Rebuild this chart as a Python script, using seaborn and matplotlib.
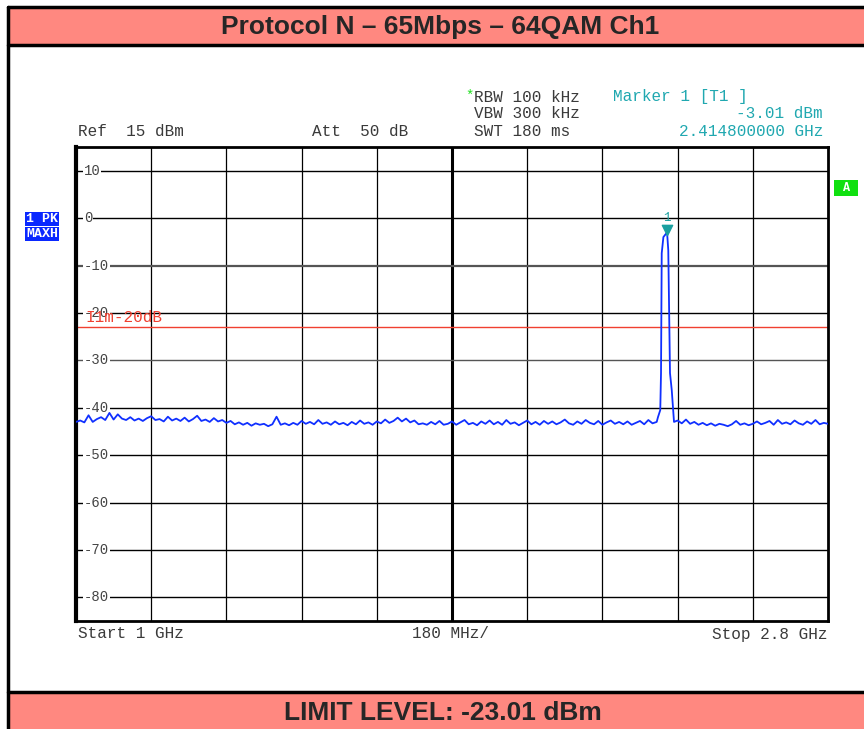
import numpy as np
import pandas as pd
import matplotlib
matplotlib.use("Agg")
import matplotlib.pyplot as plt
import seaborn as sns

# sweep settings
start_ghz = 1.0
stop_ghz = 2.8
ref_db = 15
bottom_db = -85
y_ticks = [10, 0, -10, -20, -30, -40, -50, -60, -70, -80]

# noise floor, 10 MHz steps from 1.0 GHz
noise_freq = np.linspace(1.0, 2.8, 181)
noise_db = [
    -43.0, -42.7, -43.1, -41.6, -43.0, -42.4, -42.0, -42.6, -41.1, -42.5,
    -41.4, -42.3, -42.6, -42.0, -42.7, -42.3, -42.8, -42.2, -41.8, -42.6,
    -42.4, -42.9, -41.9, -42.7, -42.3, -42.8, -42.1, -42.9, -42.4, -41.7,
    -42.8, -42.5, -43.0, -42.2, -42.9, -42.6, -43.2, -42.8, -43.5, -43.1,
    -43.6, -43.2, -43.8, -43.3, -43.6, -43.4, -43.9, -43.5, -41.9, -43.6,
    -43.3, -43.7, -43.2, -43.6, -42.8, -43.4, -43.0, -43.5, -42.6, -43.4,
    -43.1, -43.6, -42.9, -43.5, -43.2, -43.7, -43.0, -43.5, -42.7, -43.4,
    -43.1, -43.6, -42.9, -43.3, -42.5, -43.2, -42.8, -42.1, -42.9, -42.3,
    -43.1, -42.7, -43.5, -43.3, -43.6, -43.0, -43.5, -42.8, -43.6, -43.4,
    -42.9, -43.6, -43.1, -42.6, -43.5, -43.2, -43.7, -42.9, -43.4, -42.7,
    -43.5, -43.0, -43.6, -42.6, -43.4, -43.1, -43.7, -43.2, -42.7, -43.5,
    -43.0, -43.6, -42.8, -43.4, -42.9, -43.5, -43.1, -42.5, -43.3, -43.6,
    -42.9, -43.4, -42.6, -43.2, -43.5, -42.8, -43.6, -43.1, -42.7, -43.4,
    -43.0, -43.5, -42.9, -43.6, -43.2, -42.8, -43.5, -42.6, -43.3,
    -43.0, -43.0, -43.0, -43.0, -43.0,
    -42.7, -43.3, -42.5, -43.4, -43.0, -43.6, -43.2, -43.7, -43.3, -43.8,
    -43.4, -43.6, -43.9, -43.5, -42.8, -43.6, -43.3, -43.7, -43.4, -42.9,
    -43.5, -43.2, -42.8, -43.6, -42.6, -43.4, -43.1, -43.5, -42.7, -43.3,
    -43.6, -42.9, -43.4, -42.6, -43.5, -43.2, -43.4,
]

# carrier at channel 1
peak_freq = [2.393, 2.3985, 2.4003, 2.402, 2.406, 2.4148, 2.4177, 2.4218, 2.426, 2.4314]
peak_db = [-42.0, -40.5, -32.7, -7.4, -4.0, -3.01, -6.8, -32.7, -36.3, -43.0]

marker_freq = 2.4148
marker_db = -3.01
limit_db = -23.01

noise = pd.DataFrame({"freq": noise_freq, "level": noise_db})
noise = noise[(noise.freq < 2.39) | (noise.freq > 2.435)]
peak = pd.DataFrame({"freq": peak_freq, "level": peak_db})
trace = pd.concat([noise, peak]).sort_values("freq").reset_index(drop=True)

sns.set_style("white")
plt.rcParams["font.family"] = ["DejaVu Sans"]

W, H = 864, 729
fig = plt.figure(figsize=(W / 100, H / 100), dpi=100)


def fx(x):
    return x / W


def fy(y):
    return 1 - y / H


mono = "Liberation Mono"
banner = "#ff8880"
txt = "#3a3a3a"
teal = "#20a8b0"

# banners and outer frame
fig.patches.append(plt.Rectangle((fx(8), fy(45)), 1, fy(8) - fy(45), transform=fig.transFigure,
                                 facecolor=banner, edgecolor="none", zorder=0))
fig.patches.append(plt.Rectangle((fx(8), 0), 1, fy(693), transform=fig.transFigure,
                                 facecolor=banner, edgecolor="none", zorder=0))
for yy in [7, 45, 692]:
    fig.add_artist(plt.Line2D([fx(8), 1], [fy(yy), fy(yy)], color="black", lw=2.5))
fig.add_artist(plt.Line2D([fx(8), fx(8)], [fy(7), 0], color="black", lw=2.5))

fig.text(fx(440), fy(27), "Protocol N – 65Mbps – 64QAM Ch1", ha="center", va="center",
         fontsize=19, fontweight="bold", family="Liberation Sans")
fig.text(fx(443), fy(713), "LIMIT LEVEL: -23.01 dBm", ha="center", va="center",
         fontsize=19, fontweight="bold", family="Liberation Sans")

ax = fig.add_axes([fx(76), fy(621), fx(828) - fx(76), fy(147) - fy(621)])

sns.lineplot(data=trace, x="freq", y="level", ax=ax, color="#1030ff", lw=1.3, zorder=5)

ax.set_xlim(start_ghz, stop_ghz)
ax.set_ylim(bottom_db, ref_db)

# grid: 10 divisions each way
div = (stop_ghz - start_ghz) / 10
for k in range(1, 10):
    ax.axvline(start_ghz + k * div, color="black", lw=2.2 if k == 5 else 0.9, zorder=1)
for t in y_ticks:
    ax.axhline(t, color="#555555" if t in (-10, -30) else "black", lw=1.6 if t == -10 else 1.0, zorder=1)
    ax.text(0.0106, t, str(t), transform=ax.get_yaxis_transform(),
            ha="left", va="center", fontsize=10, family=mono, color="#444444", zorder=3,
            bbox=dict(facecolor="white", edgecolor="none", pad=0.5))

ax.axhline(limit_db, color="#f04030", lw=1.0, zorder=2)
ax.text(0.012, -21.0, "I1m-20dB", transform=ax.get_yaxis_transform(), ha="left", va="center",
        fontsize=11.5, family=mono, color="#f04030", zorder=4)

ax.scatter([marker_freq], [marker_db + 0.4], marker="v", s=55, color="#1aa0a0", zorder=6)
ax.text(marker_freq, marker_db + 1.7, "1", ha="center", va="bottom", fontsize=9, family=mono,
        color="#1aa0a0", zorder=6)

ax.set_xticks([])
ax.set_yticks([])
ax.set_xlabel("")
ax.set_ylabel("")
for s in ax.spines.values():
    s.set_color("black")
    s.set_linewidth(2)
ax.spines["left"].set_linewidth(3)

# instrument header text
fs = 11.5
fig.text(fx(465), fy(96), "*", color="#20e020", fontsize=10, family=mono, va="center")
fig.text(fx(474), fy(97), "RBW 100 kHz", fontsize=fs, family=mono, va="center", color=txt)
fig.text(fx(474), fy(114), "VBW 300 kHz", fontsize=fs, family=mono, va="center", color=txt)
fig.text(fx(474), fy(132), "SWT 180 ms", fontsize=fs, family=mono, va="center", color=txt)
fig.text(fx(78), fy(132), "Ref  15 dBm", fontsize=fs, family=mono, va="center", color=txt)
fig.text(fx(312), fy(132), "Att  50 dB", fontsize=fs, family=mono, va="center", color=txt)
fig.text(fx(613), fy(97), "Marker 1 [T1 ]", fontsize=fs, family=mono, va="center", color=teal)
fig.text(fx(823), fy(114), "-3.01 dBm", fontsize=fs, family=mono, va="center", ha="right", color=teal)
fig.text(fx(823), fy(132), "2.414800000 GHz", fontsize=fs, family=mono, va="center", ha="right",
         color=teal)

fig.text(fx(78), fy(634), "Start 1 GHz", fontsize=fs, family=mono, va="center", color=txt)
fig.text(fx(412), fy(634), "180 MHz/", fontsize=fs, family=mono, va="center", color=txt)
fig.text(fx(827), fy(634), "Stop 2.8 GHz", fontsize=fs, family=mono, va="center", ha="right", color=txt)

# side badges
fig.text(fx(42), fy(219), "1 PK", fontsize=9.5, family=mono, fontweight="bold", color="white", ha="center",
         va="center", bbox=dict(facecolor="#0a28ff", edgecolor="none", pad=0.5))
fig.text(fx(42), fy(234), "MAXH", fontsize=9.5, family=mono, fontweight="bold", color="white", ha="center",
         va="center", bbox=dict(facecolor="#0a28ff", edgecolor="none", pad=0.5))
fig.text(fx(846), fy(188), " A ", fontsize=8.5, family=mono, fontweight="bold", color="white", ha="center",
         va="center", bbox=dict(facecolor="#10e010", edgecolor="none", pad=1.2))

fig.savefig("out.png", dpi=100)
